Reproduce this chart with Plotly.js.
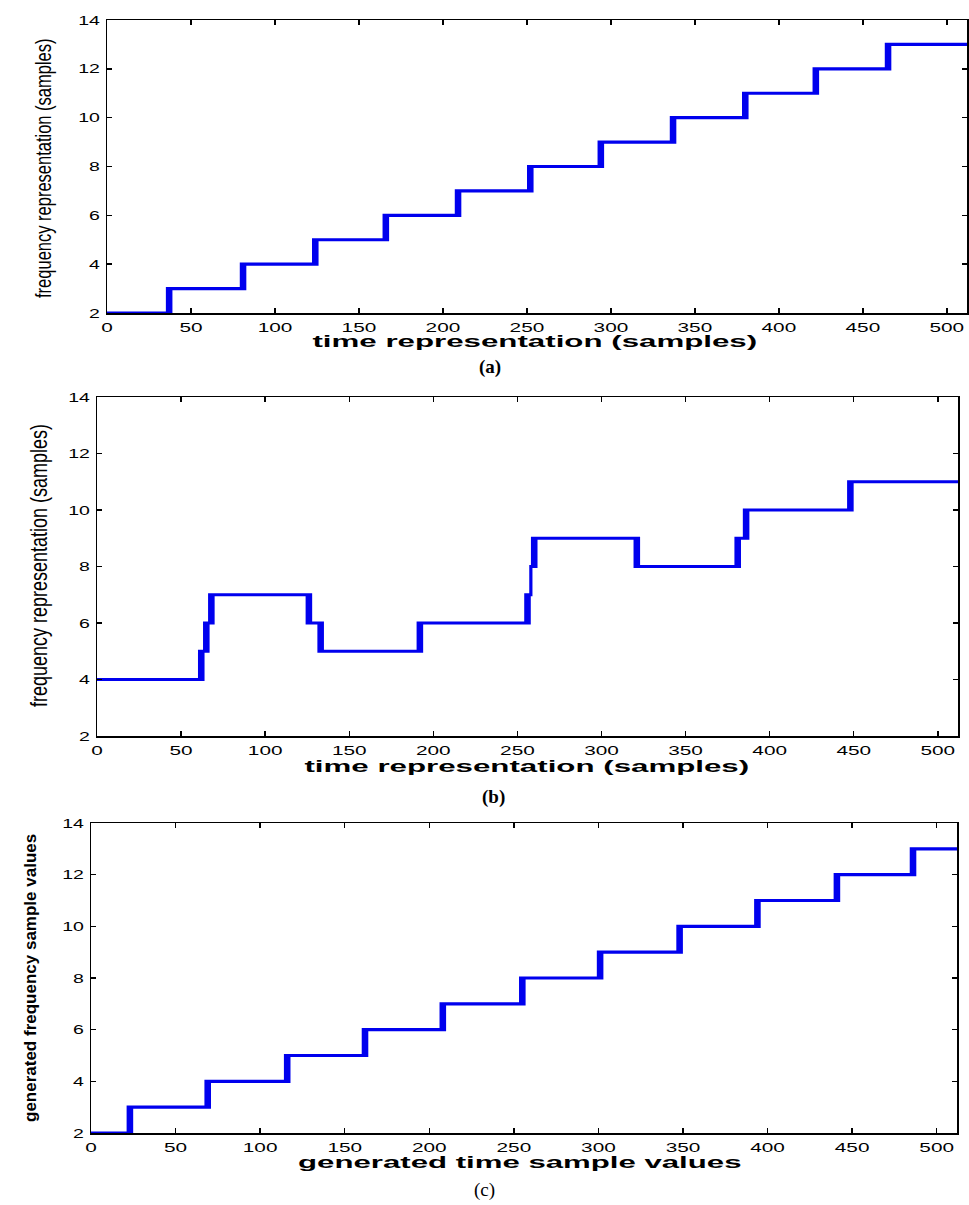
<!DOCTYPE html>
<html>
<head>
<meta charset="utf-8">
<script src="https://cdn.plot.ly/plotly-3.0.1.min.js"></script>
<style>
html,body{margin:0;padding:0;background:#fff;}
#chart{width:969px;height:1205px;}
</style>
</head>
<body>
<div id="chart"></div>
<script>
// ---- data ----
// (a) frequency staircase (samples) with jittery risers
var aTime = [0, 36,37,38, 80,81,82, 123,124,125, 165,166,167, 208,209,210, 251,252,253, 293,294,295, 336,337,338, 379,380,381, 421,422,423, 464,465,466, 512];
var aFreq = [2, 3,2,3, 4,3,4, 5,4,5, 6,5,6, 7,6,7, 8,7,8, 9,8,9, 10,9,10, 11,10,11, 12,11,12, 13,12,13, 13];
// (b)
var bTime = [0, 61,62,63,64,65,66,67,68,69, 125,126,127,132,133,134, 191,192,193, 255,256,257,258,259,260,261, 320,321,322, 380,381,382,385,386,387, 447,448,449, 512];
var bFreq = [4, 5,4,5,6,5,6,7,6,7, 6,7,6,5,6,5, 6,5,6, 7,6,7,8,9,8,9, 8,9,8, 9,8,9,10,9,10, 11,10,11, 11];
// (c)
var cTime = [0, 22,23,24, 68,69,70, 115,116,117, 161,162,163, 207,208,209, 254,255,256, 300,301,302, 347,348,349, 393,394,395, 440,441,442, 485,486,487, 512];
var cFreq = [2, 3,2,3, 4,3,4, 5,4,5, 6,5,6, 7,6,7, 8,7,8, 9,8,9, 10,9,10, 11,10,11, 12,11,12, 13,12,13, 13];

var xTickVals = [0, 50, 100, 150, 200, 250, 300, 350, 400, 450, 500];
var yTickVals = [2, 4, 6, 8, 10, 12, 14];
var xTitles = ['time representation (samples)', 'time representation (samples)', 'generated time sample values'];
var yTitles = ['frequency representation (samples)', 'frequency representation (samples)', 'generated frequency sample values'];
var captions = ['(a)', '(b)', '(c)'];

// ---- layout geometry (pixels) ----
var W = 969, H = 1205;
function px(x){ return x / W; }
function py(y){ return 1 - y / H; }

var blue = '#0000ee';
function tr(x, y, xa, ya){
  return {x: x, y: y, xaxis: xa, yaxis: ya, type: 'scatter', mode: 'lines',
    line: {color: blue, width: 3.2, shape: 'hv'}, hoverinfo: 'skip', showlegend: false};
}
var data = [tr(aTime, aFreq, 'x', 'y'), tr(bTime, bFreq, 'x2', 'y2'), tr(cTime, cFreq, 'x3', 'y3')];

var tickFont = {family: 'Liberation Sans, Arial, sans-serif', size: 13, color: '#000'};
function xa(l, r, anchor){
  return {domain: [px(l), px(r)], anchor: anchor, range: [0, 512], tickvals: xTickVals,
    ticks: 'inside', ticklen: 5, tickwidth: 1.5, tickcolor: '#000', showline: true, linecolor: '#000',
    linewidth: 1.5, mirror: 'ticks', showgrid: false, zeroline: false, tickfont: tickFont, ticklabelstandoff: 2};
}
function ya(t, b, anchor){
  return {domain: [py(b), py(t)], anchor: anchor, range: [2, 14], tickvals: yTickVals,
    ticks: 'inside', ticklen: 5, tickwidth: 1.5, tickcolor: '#000', showline: true, linecolor: '#000',
    linewidth: 1.5, mirror: 'ticks', showgrid: false, zeroline: false, tickfont: tickFont, ticklabelstandoff: 3};
}

var xTitlePos = [[535, 341], [527, 766], [520, 1162]];
var yTitlePos = [[43, 168, 16.5, 400], [39, 566, 18, 400], [30, 978, 17, 700]];
var capPos = [[490, 367, 'bold'], [493, 797, 'bold'], [485, 1190, 'normal']];

var annotations = [];
xTitles.forEach(function(t, i){
  annotations.push({text: t, xref: 'paper', yref: 'paper', x: px(xTitlePos[i][0]), y: py(xTitlePos[i][1]),
    xanchor: 'center', yanchor: 'middle', showarrow: false,
    font: {family: 'Liberation Sans, Arial, sans-serif', size: 16, color: '#000', weight: 'bold'}});
});
yTitles.forEach(function(t, i){
  annotations.push({text: t, xref: 'paper', yref: 'paper', x: px(yTitlePos[i][0]), y: py(yTitlePos[i][1]),
    xanchor: 'center', yanchor: 'middle', showarrow: false, textangle: -90,
    font: {family: 'Liberation Sans, Arial, sans-serif', size: yTitlePos[i][2], color: '#000', weight: yTitlePos[i][3]}});
});
captions.forEach(function(t, i){
  annotations.push({text: t, xref: 'paper', yref: 'paper', x: px(capPos[i][0]), y: py(capPos[i][1]),
    xanchor: 'center', yanchor: 'middle', showarrow: false,
    font: {family: 'Liberation Serif, Times New Roman, serif', size: 19, color: '#000', weight: capPos[i][2]}});
});

var layout = {
  width: W, height: H, margin: {l: 0, r: 0, t: 0, b: 0},
  paper_bgcolor: '#fff', plot_bgcolor: '#fff', showlegend: false,
  xaxis: xa(107, 967, 'y'), yaxis: ya(20, 313, 'x'),
  xaxis2: xa(97, 958, 'y2'), yaxis2: ya(397, 736, 'x2'),
  xaxis3: xa(91, 957, 'y3'), yaxis3: ya(823, 1133, 'x3'),
  annotations: annotations
};

// the reference figure is horizontally stretched; reproduce that on the text glyphs
function stretch(el, f, mode){
  var b = el.getBBox();
  var prev = el.getAttribute('transform') || '';
  var t;
  if (mode === 'y') {
    var cy = b.y + b.height / 2;
    t = ' translate(0,' + cy + ') scale(1,' + f + ') translate(0,' + (-cy) + ')';
  } else {
    var c = mode === 'right' ? (b.x + b.width) : (b.x + b.width / 2);
    t = ' translate(' + c + ',0) scale(' + f + ',1) translate(' + (-c) + ',0)';
  }
  el.setAttribute('transform', prev + t);
}

Plotly.newPlot('chart', data, layout, {staticPlot: true}).then(function(){
  var root = document.getElementById('chart');
  root.querySelectorAll('g.xtick text, g.x2tick text, g.x3tick text').forEach(function(t){ stretch(t, 1.6, 'center'); });
  root.querySelectorAll('g.ytick text, g.y2tick text, g.y3tick text').forEach(function(t){ stretch(t, 1.5, 'right'); });
  var targets = [445, 445, 444];
  [0, 1, 2].forEach(function(i){
    var t = root.querySelector('g.annotation[data-index="' + i + '"] text');
    if (t) { var w = t.getBBox().width; if (w > 0) stretch(t, targets[i] / w, 'center'); }
  });
  [3, 4].forEach(function(i){
    var t = root.querySelector('g.annotation[data-index="' + i + '"] text');
    if (t) stretch(t, 1.35, 'y');
  });
});
</script>
</body>
</html>
